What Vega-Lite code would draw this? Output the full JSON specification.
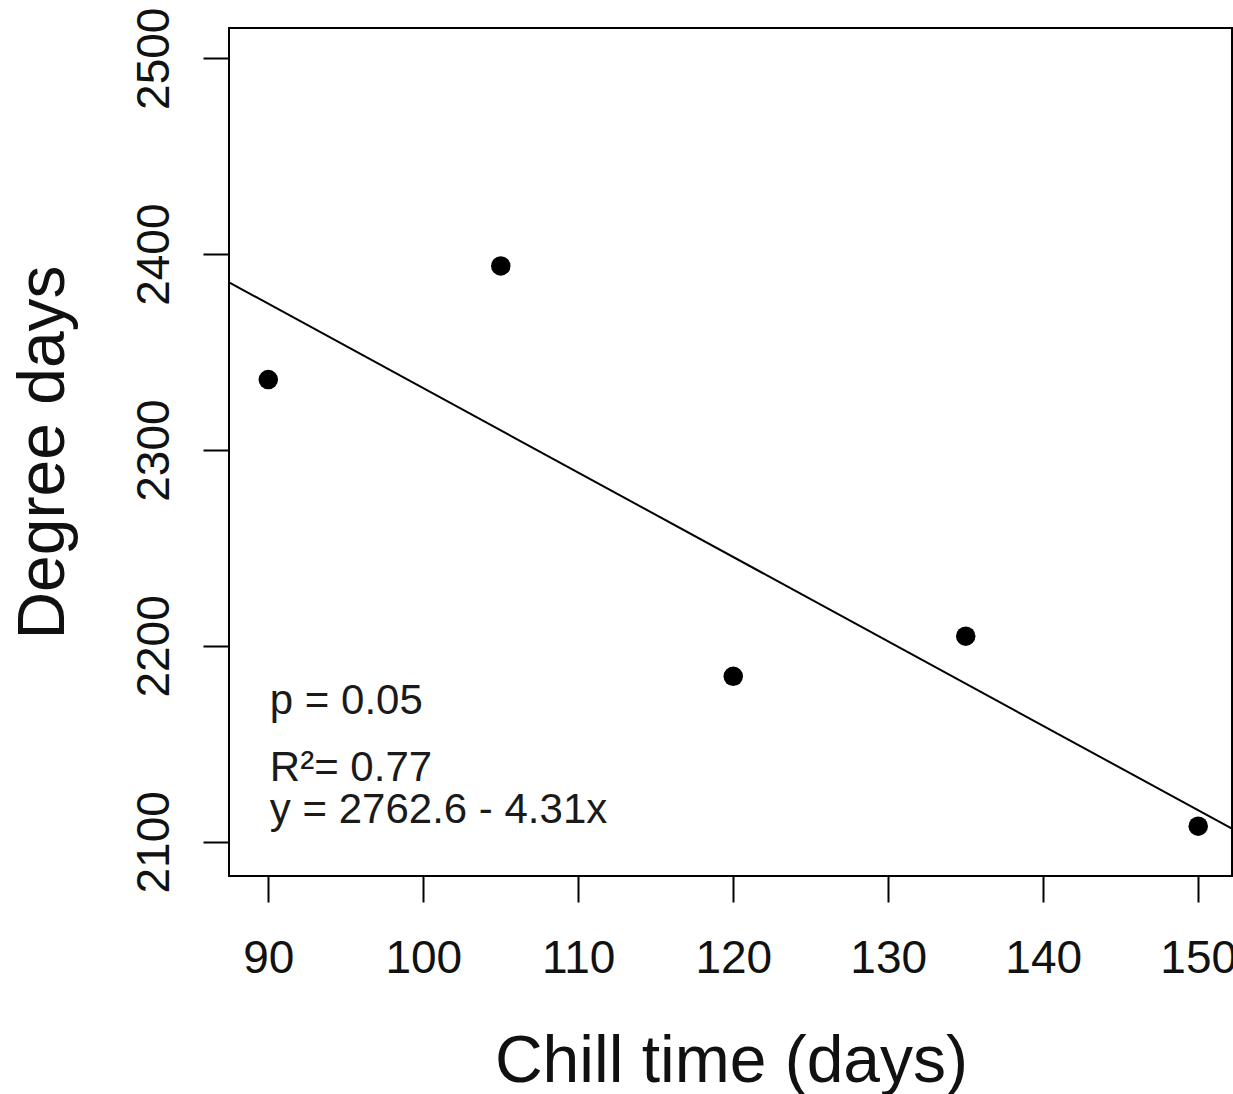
{
  "$schema": "https://vega.github.io/schema/vega-lite/v6.json",
  "width": 1003,
  "height": 848,
  "autosize": {"type": "none"},
  "padding": {"left": 229, "top": 28, "right": 1, "bottom": 218},
  "background": "white",
  "config": {
    "font": "Liberation Sans",
    "view": {"stroke": "black", "strokeWidth": 2},
    "axis": {
      "grid": false,
      "domain": false,
      "tickColor": "black",
      "tickWidth": 2,
      "tickSize": 26,
      "labelColor": "#111111",
      "labelFont": "Liberation Sans",
      "labelFontSize": 46,
      "titleColor": "#111111",
      "titleFont": "Liberation Sans",
      "titleFontSize": 66,
      "titleFontWeight": "normal",
      "labelOverlap": false,
      "labelFlush": false
    }
  },
  "datasets": {
    "points": [
      {"chill": 90, "deg": 2336},
      {"chill": 105, "deg": 2394},
      {"chill": 120, "deg": 2184.5},
      {"chill": 135, "deg": 2205},
      {"chill": 150, "deg": 2108}
    ],
    "fit": [
      {"chill": 87.47, "deg": 2385.6},
      {"chill": 152.18, "deg": 2106.7}
    ],
    "notes": [
      {"label": "p = 0.05", "chill": 90.1, "deg": 2165},
      {"label": "R²= 0.77", "chill": 90.1, "deg": 2130.8},
      {"label": "y = 2762.6 - 4.31x", "chill": 90.1, "deg": 2109.8}
    ]
  },
  "encoding": {
    "x": {
      "field": "chill",
      "type": "quantitative",
      "scale": {"domain": [87.465, 152.18], "nice": false, "zero": false},
      "axis": {
        "title": "Chill time (days)",
        "values": [90, 100, 110, 120, 130, 140, 150],
        "format": "d",
        "labelPadding": 34,
        "labelBaseline": "top",
        "titleX": 502,
        "titleY": 185,
        "titleBaseline": "middle",
        "titleAlign": "center"
      }
    },
    "y": {
      "field": "deg",
      "type": "quantitative",
      "scale": {"domain": [2082.55, 2515.46], "nice": false, "zero": false},
      "axis": {
        "title": "Degree days",
        "values": [2100, 2200, 2300, 2400, 2500],
        "format": "d",
        "labelAngle": -90,
        "labelAlign": "center",
        "labelBaseline": "alphabetic",
        "labelPadding": 35,
        "titleAngle": -90,
        "titleX": -186,
        "titleY": 424,
        "titleBaseline": "middle",
        "titleAlign": "center"
      }
    }
  },
  "layer": [
    {
      "data": {"name": "fit"},
      "mark": {"type": "line", "color": "black", "strokeWidth": 2, "clip": true}
    },
    {
      "data": {"name": "points"},
      "mark": {"type": "circle", "color": "black", "opacity": 1, "size": 380}
    },
    {
      "data": {"name": "notes"},
      "mark": {"type": "text", "align": "left", "baseline": "alphabetic", "fontSize": 42, "color": "#1a1a1a", "font": "Liberation Sans"},
      "encoding": {"text": {"field": "label"}}
    }
  ]
}
